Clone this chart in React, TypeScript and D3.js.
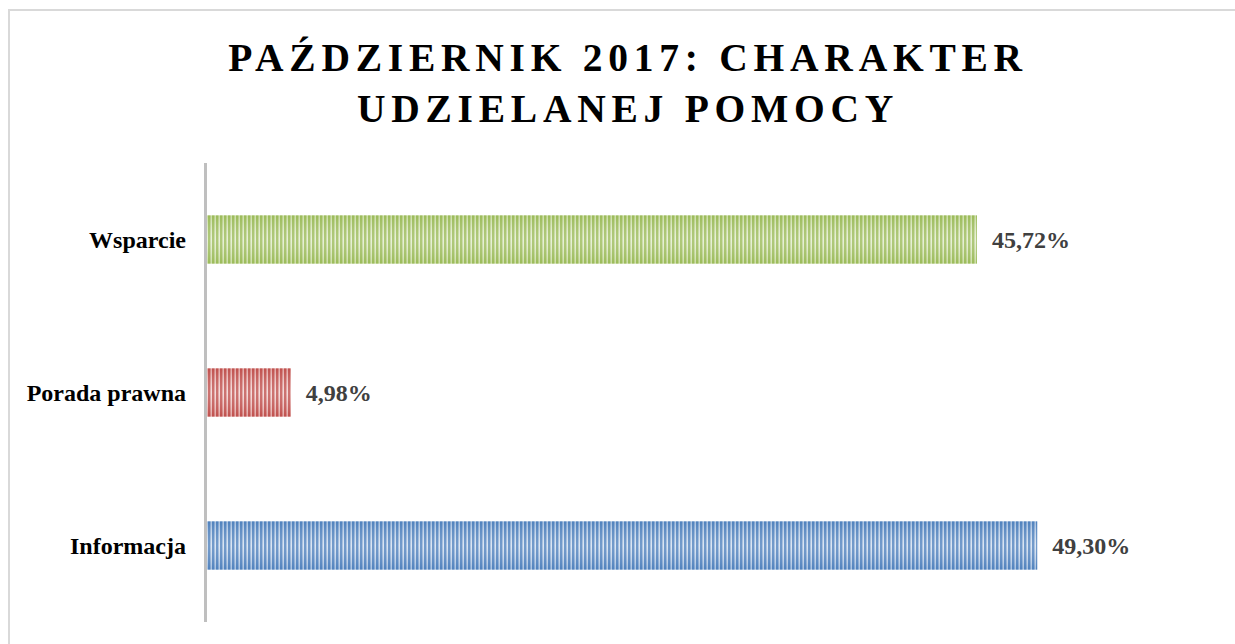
import React from "react";
import * as d3 from "d3";

const categories = ["Wsparcie", "Porada prawna", "Informacja"];
const values = [45.72, 4.98, 49.3];
const valueLabels = ["45,72%", "4,98%", "49,30%"];
const colors = ["#9bbb59", "#c0504d", "#4f81bd"];
const lightColors = ["#e3edcf", "#f2d3d2", "#d3e0f0"];
const titleLines = ["PAŹDZIERNIK 2017: CHARAKTER", "UDZIELANEJ POMOCY"];

const W = 1235;
const H = 644;

export default function App() {
  const x = d3.scaleLinear().domain([0, 50]).range([207, 1049]);
  const y = d3.scaleBand<string>().domain(categories).range([163, 622]).padding(0);
  const barH = y.bandwidth() * 0.315;
  const font = "'Liberation Serif', 'Times New Roman', serif";

  return (
    <div style={{ position: "absolute", left: 0, top: 0 }}>
      <svg width={W} height={H} style={{ display: "block", background: "#fff" }}>
        <defs>
          {colors.map((c, i) => (
            <pattern key={i} id={`stripe${i}`} patternUnits="userSpaceOnUse" width={4} height={10}>
              <rect x={0} y={0} width={4} height={10} fill={lightColors[i]} />
              <rect x={0} y={0} width={2} height={10} fill={c} />
              <rect x={2} y={0} width={1} height={10} fill={c} opacity={0.45} />
            </pattern>
          ))}
          {colors.map((c, i) => (
            <linearGradient key={i} id={`shade${i}`} x1="0" y1="0" x2="0" y2="1">
              <stop offset="0%" stopColor={c} stopOpacity={0.35} />
              <stop offset="50%" stopColor="#ffffff" stopOpacity={0.2} />
              <stop offset="100%" stopColor={c} stopOpacity={0.35} />
            </linearGradient>
          ))}
        </defs>
        <rect x={9} y={10} width={W + 10} height={H + 10} fill="none" stroke="#d9d9d9" strokeWidth={2} />
        {titleLines.map((t, i) => (
          <text
            key={i}
            x={628}
            y={71 + i * 51}
            textAnchor="middle"
            fontFamily={font}
            fontWeight="bold"
            fontSize={39.5}
            letterSpacing={5.75}
            fill="#000"
          >
            {t}
          </text>
        ))}
        {categories.map((cat, i) => {
          const yc = (y(cat) as number) + y.bandwidth() / 2;
          const y0 = yc - barH / 2;
          const x1 = x(values[i]);
          return (
            <g key={cat}>
              <rect x={x(0)} y={y0} width={x1 - x(0)} height={barH} fill={`url(#stripe${i})`} />
              <rect x={x(0)} y={y0} width={x1 - x(0)} height={barH} fill={`url(#shade${i})`} />
              <text
                x={186}
                y={yc}
                dy="0.35em"
                textAnchor="end"
                fontFamily={font}
                fontWeight="bold"
                fontSize={24}
                fill="#000"
              >
                {cat}
              </text>
              <text
                x={x1 + 15}
                y={yc}
                dy="0.35em"
                fontFamily={font}
                fontWeight="bold"
                fontSize={24}
                fill="#404040"
              >
                {valueLabels[i]}
              </text>
            </g>
          );
        })}
        <line x1={205.5} x2={205.5} y1={163} y2={622} stroke="#bfbfbf" strokeWidth={3} />
      </svg>
    </div>
  );
}
